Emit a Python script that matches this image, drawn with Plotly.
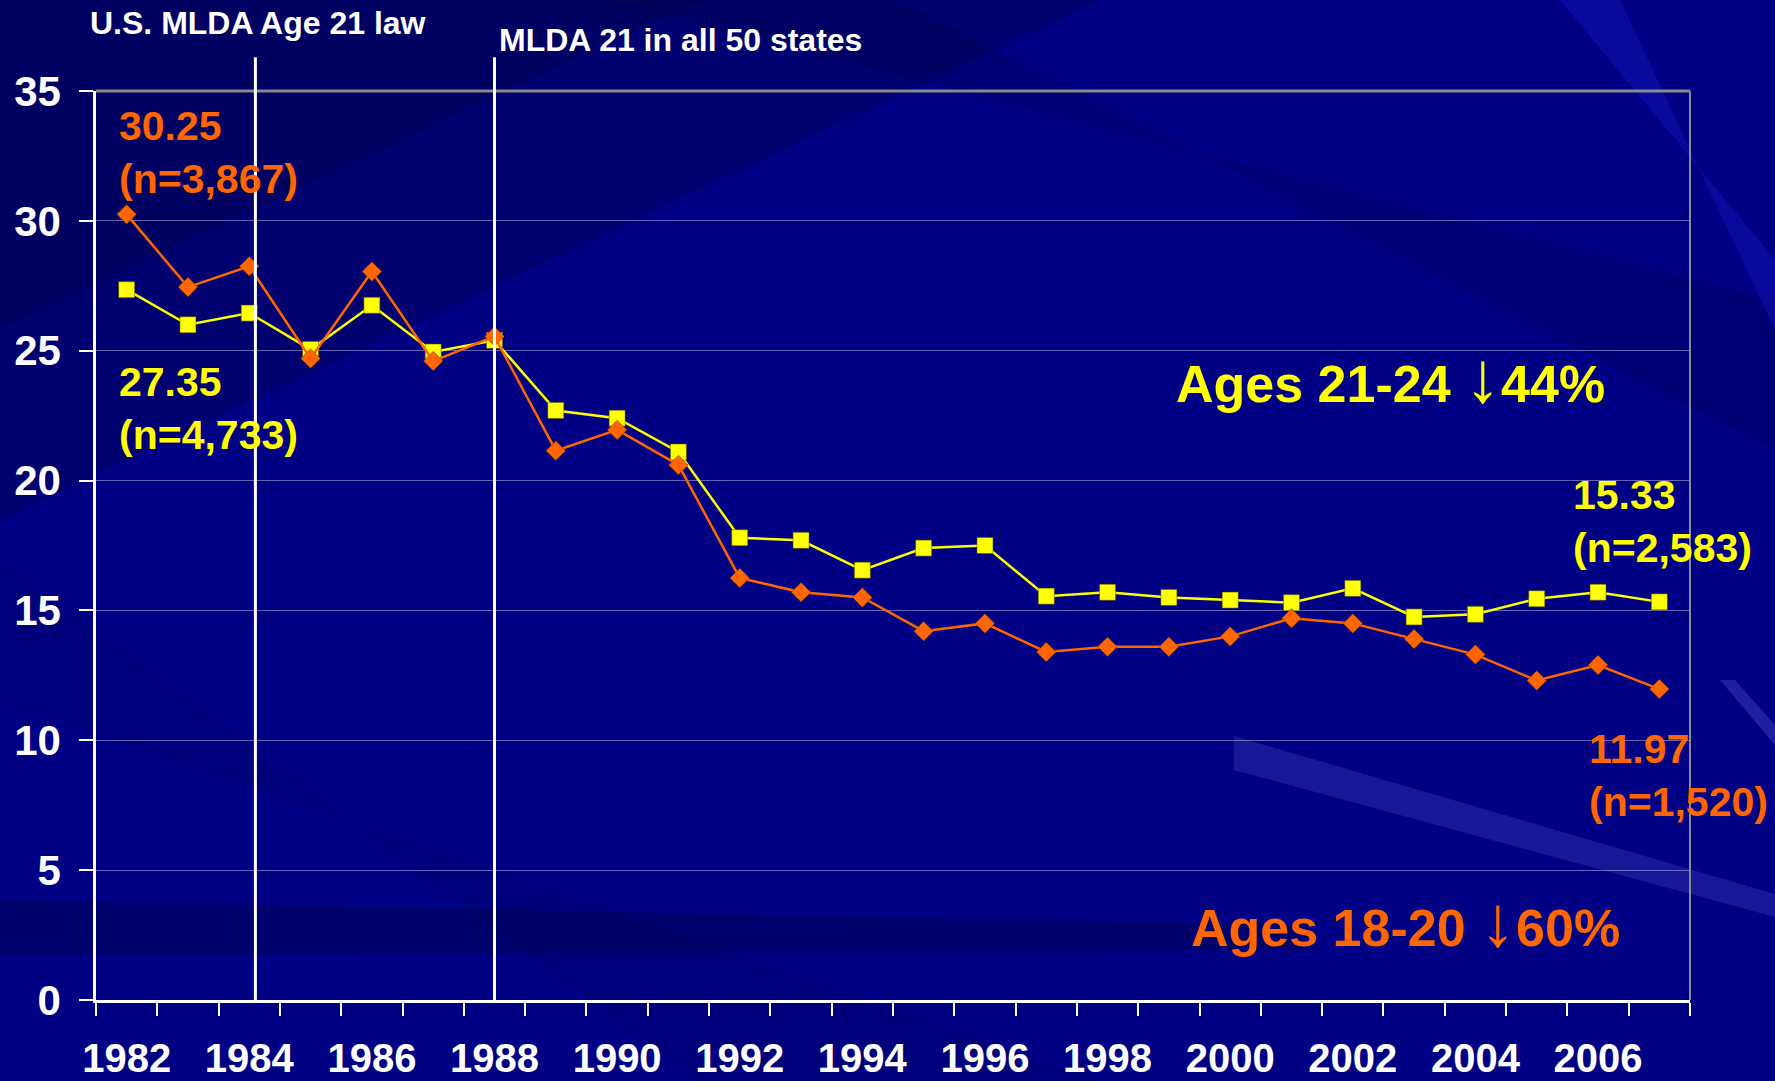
import plotly.graph_objects as go

# ---- data ----
years = list(range(1982, 2008))
ages_18_20 = [30.25, 27.45, 28.25, 24.70, 28.05, 24.60, 25.55, 21.15, 21.95, 20.60,
              16.25, 15.70, 15.50, 14.20, 14.50, 13.40, 13.60, 13.60, 14.00, 14.70,
              14.50, 13.90, 13.30, 12.30, 12.90, 11.97]
ages_21_24 = [27.35, 26.00, 26.45, 25.05, 26.75, 24.95, 25.40, 22.70, 22.40, 21.10,
              17.80, 17.70, 16.55, 17.40, 17.50, 15.55, 15.70, 15.50, 15.40, 15.30,
              15.85, 14.75, 14.85, 15.45, 15.70, 15.33]
year_labels = [str(y) for y in range(1982, 2007, 2)]
law_years = [1984.1, 1988.0]
law_texts = ["U.S. MLDA Age 21 law", "MLDA 21 in all 50 states"]
start_labels = ["30.25<br>(n=3,867)", "27.35<br>(n=4,733)"]
end_labels = ["15.33<br>(n=2,583)", "11.97<br>(n=1,520)"]
series_names = ["Ages 21-24", "Ages 18-20"]
series_drops = ["44%", "60%"]

ORANGE = "#FF6600"
YELLOW = "#FFFF00"
FONT = "Arial, Liberation Sans, sans-serif"
ARROW = '<span style="font-size:72px;font-weight:normal">\u2193</span>'

W, H = 1775, 1081
ML, MR, MT, MB = 96, 85, 91, 81
PW, PH = W - ML - MR, H - MT - MB


def P(x, y):
    """canvas pixel -> paper coords (for background decoration only)"""
    return ((x - ML) / PW, (H - MB - y) / PH)


def poly(pts):
    s = ""
    for i, (x, y) in enumerate(pts):
        px, py = P(x, y)
        s += ("M" if i == 0 else "L") + f"{px:.4f},{py:.4f} "
    return s + "Z"


fig = go.Figure()

fig.add_trace(go.Scatter(
    x=years, y=ages_21_24, mode="lines+markers", name=series_names[0],
    line=dict(color=YELLOW, width=2.5),
    marker=dict(symbol="square", size=16, color=YELLOW,
                line=dict(color="#555500", width=0.5)),
))
fig.add_trace(go.Scatter(
    x=years, y=ages_18_20, mode="lines+markers", name=series_names[1],
    line=dict(color=ORANGE, width=2.5),
    marker=dict(symbol="diamond", size=15, color=ORANGE,
                line=dict(color="#803300", width=0.5)),
))

shapes = []
# background streaks (soft)
bg = [
    ([(0, 0), (1100, 0), (0, 520)], "rgba(0,0,40,0.22)"),
    ([(0, 0), (700, 0), (0, 330)], "rgba(0,0,40,0.18)"),
    ([(0, 560), (0, 700), (1100, 1081), (700, 1081)], "rgba(0,0,60,0.15)"),
    ([(0, 900), (0, 955), (1300, 950), (1300, 925)], "rgba(0,0,40,0.25)"),
    ([(600, 0), (900, 0), (1775, 450), (1775, 300)], "rgba(0,0,50,0.18)"),
    ([(1234, 736), (1234, 770), (1775, 917), (1775, 894)], "rgba(140,140,255,0.16)"),
    ([(1560, 0), (1620, 0), (1775, 330), (1775, 260)], "rgba(30,30,220,0.30)"),
    ([(1720, 680), (1735, 680), (1775, 725), (1775, 745)], "rgba(140,140,255,0.22)"),
]
for pts, col in bg:
    shapes.append(dict(type="path", path=poly(pts), xref="paper", yref="paper",
                       fillcolor=col, line=dict(width=0), layer="below"))

# plot frame: grey top and right
shapes.append(dict(type="line", xref="paper", yref="paper", x0=0, x1=1, y0=1, y1=1,
                   line=dict(color="#8a8a8a", width=3)))
shapes.append(dict(type="line", xref="paper", yref="paper", x0=1, x1=1, y0=0, y1=1,
                   line=dict(color="#8a8a8a", width=2)))
# law lines
for lx in law_years:
    shapes.append(dict(type="line", xref="x", yref="paper", x0=lx, x1=lx, y0=0, y1=1.037,
                       line=dict(color="white", width=3)))

annotations = []
annotations.append(dict(x=-0.005, y=1.075, xref="paper", yref="paper", text=law_texts[0],
                        showarrow=False, xanchor="left", yanchor="middle",
                        font=dict(family=FONT, size=32, color="white", weight="bold")))
annotations.append(dict(x=law_years[1], y=1.056, xref="x", yref="paper", text=law_texts[1],
                        showarrow=False, xanchor="left", yanchor="middle", xshift=2,
                        font=dict(family=FONT, size=32, color="white", weight="bold")))

annotations.append(dict(x=1981.84, y=32.65, xref="x", yref="y", text=start_labels[0],
                        showarrow=False, xanchor="left", yanchor="middle", align="left",
                        font=dict(family=FONT, size=41, color=ORANGE, weight="bold")))
annotations.append(dict(x=1981.84, y=22.76, xref="x", yref="y", text=start_labels[1],
                        showarrow=False, xanchor="left", yanchor="middle", align="left",
                        font=dict(family=FONT, size=41, color=YELLOW, weight="bold")))
annotations.append(dict(x=2005.56, y=18.44, xref="x", yref="y", text=end_labels[0],
                        showarrow=False, xanchor="left", yanchor="middle", align="left",
                        font=dict(family=FONT, size=41, color=YELLOW, weight="bold")))
annotations.append(dict(x=2005.82, y=8.63, xref="x", yref="y", text=end_labels[1],
                        showarrow=False, xanchor="left", yanchor="middle", align="left",
                        font=dict(family=FONT, size=41, color=ORANGE, weight="bold")))
annotations.append(dict(x=2002.61, y=23.97, xref="x", yref="y",
                        text=f"{series_names[0]} {ARROW}{series_drops[0]}",
                        showarrow=False, xanchor="center", yanchor="middle",
                        font=dict(family=FONT, size=52, color=YELLOW, weight="bold")))
annotations.append(dict(x=2002.86, y=3.06, xref="x", yref="y",
                        text=f"{series_names[1]} {ARROW}{series_drops[1]}",
                        showarrow=False, xanchor="center", yanchor="middle",
                        font=dict(family=FONT, size=52, color=ORANGE, weight="bold")))

fig.update_layout(
    width=W, height=H,
    margin=dict(l=ML, r=MR, t=MT, b=MB, autoexpand=False),
    paper_bgcolor="#000085",
    plot_bgcolor="rgba(0,0,0,0)",
    showlegend=False,
    shapes=shapes,
    annotations=annotations,
    font=dict(family=FONT, color="white"),
)

fig.update_xaxes(
    range=[1981.5, 2007.5], automargin=False,
    tickvals=[int(t) for t in year_labels], ticktext=year_labels,
    ticks="outside", ticklen=21, tickcolor="rgba(0,0,0,0)",
    tickfont=dict(family=FONT, size=40, color="white", weight="bold"),
    showgrid=False, zeroline=False,
    showline=True, linecolor="white", linewidth=2.5,
    minor=dict(ticks="outside", tick0=1981.5, dtick=1, ticklen=13,
               tickwidth=2, tickcolor="white", showgrid=False),
)
fig.update_yaxes(
    range=[0, 35], dtick=5, automargin=False,
    ticks="outside", ticklen=14, tickwidth=2, tickcolor="white",
    ticklabelstandoff=10,
    tickfont=dict(family=FONT, size=42, color="white", weight="bold"),
    showgrid=True, gridcolor="rgba(180,180,230,0.55)", gridwidth=1,
    zeroline=False,
    showline=True, linecolor="white", linewidth=2.5,
)

fig.write_html(
    "out.html",
    config={"displayModeBar": False},
    post_script="document.body.style.margin='0px';document.body.style.overflow='hidden';",
)
